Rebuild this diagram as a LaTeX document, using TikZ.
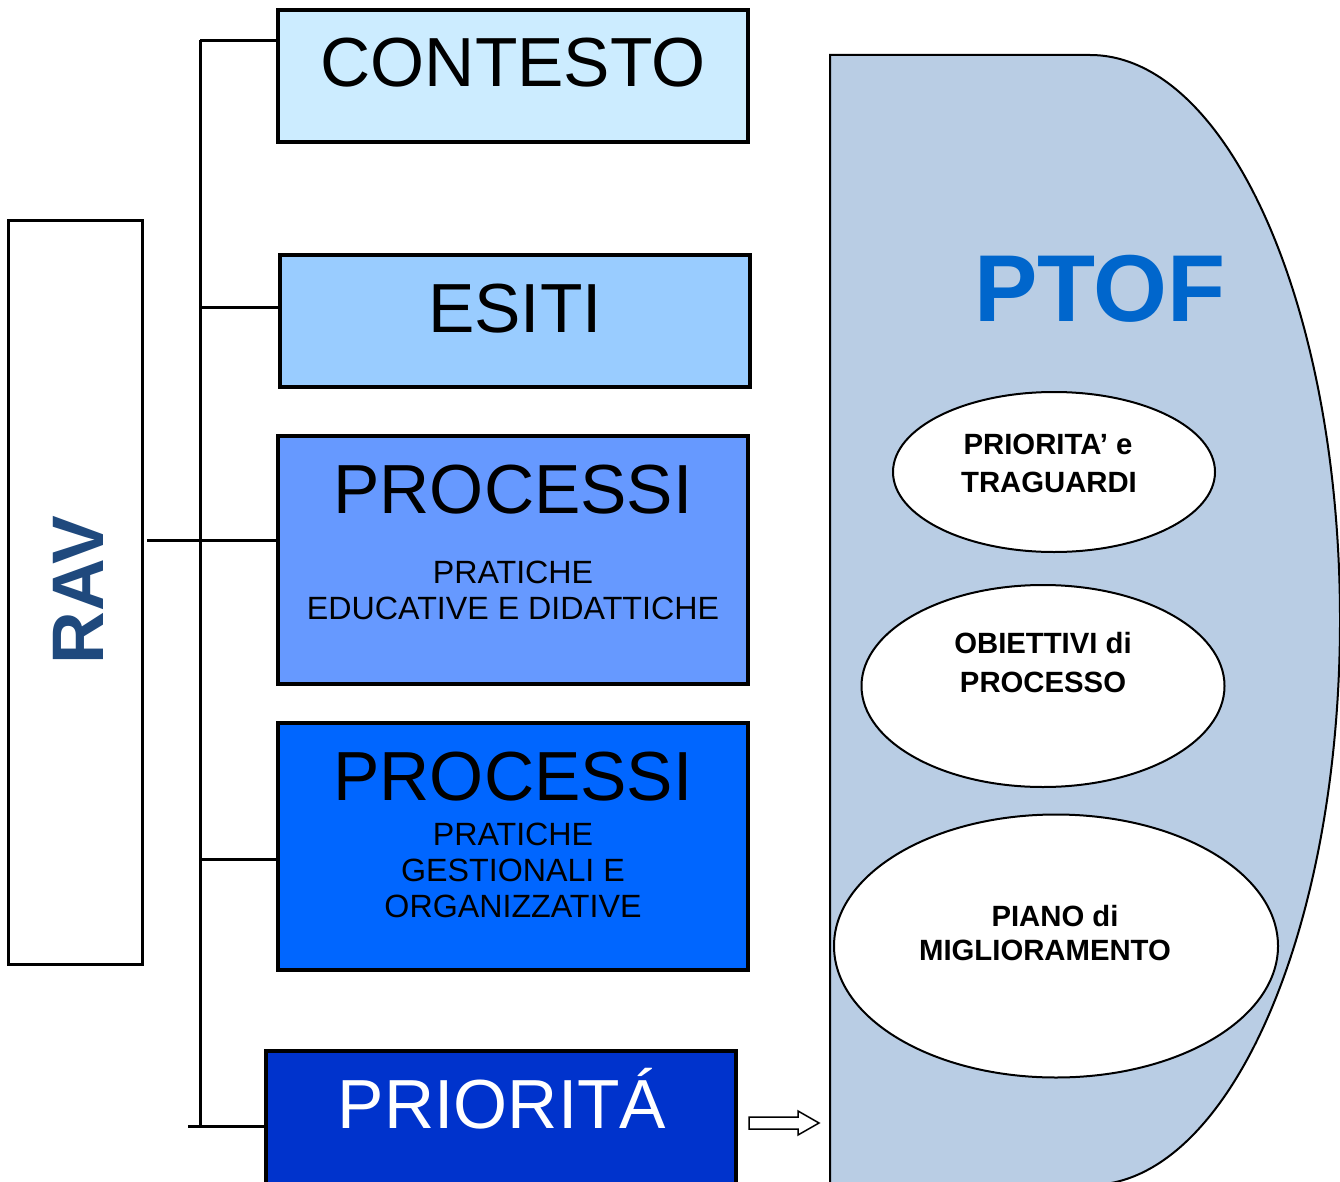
\documentclass[tikz,border=0pt]{standalone}
\usepackage{fontspec}
\setmainfont{Liberation Sans}
\usetikzlibrary{shapes.geometric,calc}
\definecolor{cContesto}{HTML}{CCECFF}
\definecolor{cEsiti}{HTML}{99CCFF}
\definecolor{cProcA}{HTML}{6699FF}
\definecolor{cProcB}{HTML}{0066FF}
\definecolor{cPrio}{HTML}{0033CC}
\definecolor{cPtof}{HTML}{B9CDE4}
\definecolor{cPtofText}{HTML}{0066CC}
\definecolor{cRav}{HTML}{1F497D}
\tikzset{
  areabox/.style={draw=black, line width=3.5pt, inner sep=0pt, outer sep=0pt, anchor=north west},
  bus/.style={draw=black, line width=3pt},
  bigtxt/.style={anchor=base, inner sep=0pt, font=\fontsize{69.5}{69.5}\selectfont},
  subtxt/.style={anchor=base, inner sep=0pt, font=\fontsize{32.2}{36}\selectfont},
  elltxt/.style={anchor=base, inner sep=0pt, font=\bfseries\fontsize{29.3}{34}\selectfont},
  ellnode/.style={ellipse, draw=black, line width=2pt, fill=white, inner sep=0pt},
}
\begin{document}
\begin{tikzpicture}[x=1pt, y=-1pt]
\useasboundingbox (0,0) rectangle (1340,1182);
\clip (0,0) rectangle (1340,1182);
\fill[white] (0,0) rectangle (1340,1182);

% PTOF area
\draw[fill=cPtof, line width=2pt] (830,55) -- (1090,55)
  arc[start angle=90, end angle=-90, x radius=250pt, y radius=565pt] -- (830,1185) -- cycle;
\node[anchor=base, inner sep=0pt, text=cPtofText, font=\bfseries\fontsize{95}{95}\selectfont] (ptof) at (1100,321) {PTOF};

% ellipses
\node[ellnode, minimum width=322pt, minimum height=160pt] (e1) at (1054,472) {};
\node[elltxt] (e1a) at (1048,454) {PRIORITA’ e};
\node[elltxt] (e1b) at (1049,492) {TRAGUARDI};
\node[ellnode, minimum width=363pt, minimum height=202pt] (e2) at (1043,686) {};
\node[elltxt] (e2a) at (1043,653) {OBIETTIVI di};
\node[elltxt] (e2b) at (1043,692) {PROCESSO};
\node[ellnode, minimum width=444pt, minimum height=263pt] (e3) at (1056,946) {};
\node[elltxt] (e3a) at (1055,926) {PIANO di};
\node[elltxt] (e3b) at (1045,960) {MIGLIORAMENTO};

% RAV box
\node[draw=black, line width=3pt, inner sep=0pt, outer sep=0pt, anchor=north west,
  minimum width=134pt, minimum height=743pt] (rav) at (8,221) {};
\node[rotate=90, inner sep=0pt, text=cRav, font=\bfseries\fontsize{73}{73}\selectfont] (ravt) at (78,590) {RAV};

% area boxes
\node[areabox, fill=cContesto, minimum width=470pt, minimum height=132pt] (contesto) at (278,10) {};
\node[bigtxt] (contestot) at (513,87) {CONTESTO};
\node[areabox, fill=cEsiti, minimum width=470pt, minimum height=132pt] (esiti) at (280,255) {};
\node[bigtxt] (esitit) at (515,332) {ESITI};
\node[areabox, fill=cProcA, minimum width=470pt, minimum height=248pt] (procA) at (278,436) {};
\node[bigtxt] (procAt) at (513,513) {PROCESSI};
\node[subtxt] (procA1) at (513,583) {PRATICHE};
\node[subtxt] (procA2) at (513,619) {EDUCATIVE E DIDATTICHE};
\node[areabox, fill=cProcB, minimum width=470pt, minimum height=247pt] (procB) at (278,723) {};
\node[bigtxt] (procBt) at (513,800) {PROCESSI};
\node[subtxt] (procB1) at (513,845) {PRATICHE};
\node[subtxt] (procB2) at (513,881) {GESTIONALI E};
\node[subtxt] (procB3) at (513,917) {ORGANIZZATIVE};
\node[areabox, fill=cPrio, minimum width=470pt, minimum height=160pt] (prio) at (266,1051) {};
\node[bigtxt, text=white] (priot) at (502,1128) {PRIORITÁ};

% bus lines
\coordinate (btop) at (200,40);
\coordinate (bbot) at (200,1128);
\draw[bus] (btop) -- (bbot);
\coordinate (b1) at (200,41);
\draw[bus] (b1) -- (b1 -| contesto.west);
\coordinate (b2) at (200,307);
\draw[bus] (b2) -- (b2 -| esiti.west);
\coordinate (b3) at (147,540);
\draw[bus] (b3) -- (b3 -| procA.west);
\coordinate (b4) at (200,859);
\draw[bus] (b4) -- (b4 -| procB.west);
\coordinate (b5) at (188,1126);
\draw[bus] (b5) -- (b5 -| prio.west);

% block arrow
\coordinate (arTail) at (749,1123);
\coordinate (arTip) at (819,1123);
\draw[fill=white, line width=1.5pt, line join=miter]
  ($(arTail)+(0,-6)$) -- ($(arTip)+(-21,-6)$) -- ($(arTip)+(-21,-12)$) -- (arTip)
  -- ($(arTip)+(-21,12)$) -- ($(arTip)+(-21,6)$) -- ($(arTail)+(0,6)$) -- cycle;
\end{tikzpicture}
\end{document}
